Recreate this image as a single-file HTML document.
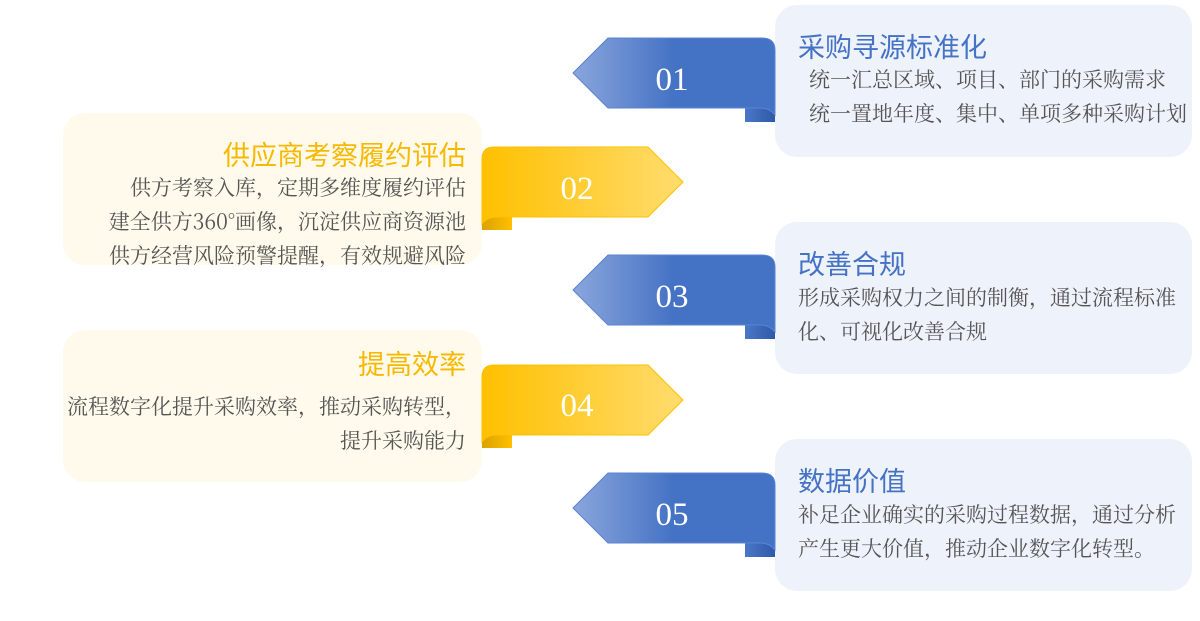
<!DOCTYPE html>
<html><head><meta charset="utf-8"><style>
body{margin:0;width:1200px;height:621px;background:#fff;position:relative;overflow:hidden;font-family:"Liberation Sans","Noto Sans CJK SC",sans-serif}
.card{position:absolute;border-radius:22px}
.r{left:775px;width:417px;height:152px;background:#eef2fb}
.l{left:63px;width:419px;height:152px;background:#fffaeb}
.t{position:absolute;font-size:27px;white-space:nowrap}
.rt{color:#4472c4;left:798px}
.lt{color:#f7b900;right:734px}
.b{position:absolute;font-family:"Noto Serif CJK SC","Liberation Serif",serif;font-size:21px;color:#555;line-height:34px;white-space:nowrap}
.lb{right:734px;text-align:right}
svg{position:absolute;left:0;top:0}
</style></head><body>
<div class="card l" style="top:113px"></div>
<div class="card l" style="top:330px"></div>
<div class="card r" style="top:5px"></div>
<div class="card r" style="top:222px"></div>
<div class="card r" style="top:439px"></div>
<svg width="1200" height="621">
<defs>
<linearGradient id="bg" x1="0" x2="1"><stop offset="0" stop-color="#8aa6dc"/><stop offset="0.5" stop-color="#4472c4"/><stop offset="1" stop-color="#4472c4"/></linearGradient>
<linearGradient id="yg" x1="0" x2="1"><stop offset="0" stop-color="#ffc000"/><stop offset="1" stop-color="#ffdc6e"/></linearGradient>
<linearGradient id="bc" x1="0" x2="1"><stop offset="0" stop-color="#4a78c8"/><stop offset="1" stop-color="#2f58a8"/></linearGradient>
<linearGradient id="yc" x1="0" x2="1"><stop offset="0" stop-color="#d9a200"/><stop offset="1" stop-color="#ffc000"/></linearGradient>
<g id="ba"><path d="M745 108 L775 108 L775 122 L745 122 Z" fill="url(#bc)"/><ellipse cx="760" cy="115" rx="15" ry="7" fill="url(#bc)"/><path d="M573 73 L608 38 L762 38 Q775 38 775 50 L775 115 Q770 108 760 108 L608 108 Z" fill="url(#bg)" stroke="#5b85d0" stroke-width="1"/></g>
<g id="ya"><path d="M482 217 L512 217 L512 230 L482 230 Z" fill="url(#yc)"/><ellipse cx="497" cy="222" rx="15" ry="8" fill="url(#yc)"/><path d="M683 182 L648 147 L494 147 Q482 147 482 159 L482 224 Q487 217 497 217 L648 217 Z" fill="url(#yg)" stroke="#ffc000" stroke-width="1"/></g>
</defs>
<use href="#ba"/>
<use href="#ba" y="217"/>
<use href="#ba" y="435"/>
<use href="#ya"/>
<use href="#ya" y="218"/>
<g font-family="Liberation Serif,serif" font-size="33" fill="#fff" text-anchor="middle">
<text x="672" y="90">01</text><text x="577" y="199">02</text><text x="672" y="307">03</text><text x="577" y="416">04</text><text x="672" y="525">05</text>
</g>
</svg>
<div class="t rt" style="top:26px">采购寻源标准化</div>
<div class="b" style="left:809px;top:62px">统一汇总区域、项目、部门的采购需求<br>统一置地年度、集中、单项多种采购计划</div>
<div class="t lt" style="top:134px">供应商考察履约评估</div>
<div class="b lb" style="top:170px">供方考察入库，定期多维度履约评估<br>建全供方360°画像，沉淀供应商资源池<br>供方经营风险预警提醒，有效规避风险</div>
<div class="t rt" style="top:243px">改善合规</div>
<div class="b" style="left:798px;top:280px">形成采购权力之间的制衡，通过流程标准<br>化、可视化改善合规</div>
<div class="t lt" style="top:343px">提高效率</div>
<div class="b lb" style="top:389px">流程数字化提升采购效率，推动采购转型，<br>提升采购能力</div>
<div class="t rt" style="top:460px">数据价值</div>
<div class="b" style="left:798px;top:497px">补足企业确实的采购过程数据，通过分析<br>产生更大价值，推动企业数字化转型。</div>
</body></html>
